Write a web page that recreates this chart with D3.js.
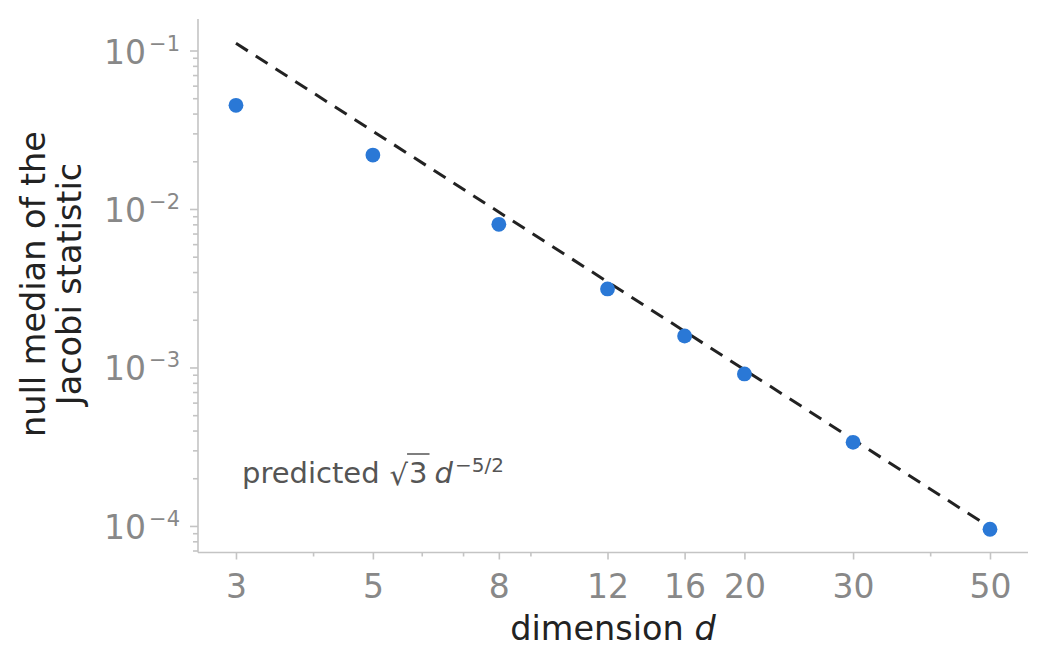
<!DOCTYPE html>
<html>
<head>
<meta charset="utf-8">
<script src="https://cdn.jsdelivr.net/npm/d3@7"></script>
<style>
  body { margin: 0; background: #fff; }
  svg text { font-family: "DejaVu Sans", sans-serif; }
</style>
</head>
<body>
<svg id="chart" width="1047" height="668"></svg>
<script>
// measured null medians
var dims = [3, 5, 8, 12, 16, 20, 30, 50];
var medians = [0.0451, 0.0219, 0.0080, 0.00313, 0.00158, 0.00091, 0.000337, 0.0000953];

// predicted sqrt(3) d^-5/2, read at the ends of the dashed line
var predDims = [3, 50];
var predVals = [0.111, 0.000098];

var xMajor = [3, 5, 8, 12, 16, 20, 30, 50];
var xMinor = [4, 6, 7, 9, 40];
var yMajor = [1e-4, 1e-3, 1e-2, 1e-1];
var yExp = ["\u22124", "\u22123", "\u22122", "\u22121"];

var svg = d3.select("#chart");
var plotL = 198, plotR = 1028, plotT = 19, plotB = 552.5;

var x = d3.scaleLog().domain([2.6036, 57.62]).range([plotL, plotR]);
var y = d3.scaleLog().domain([6.80e-5, 0.15804]).range([plotB, plotT]);

var yMinor = [];
[1e-5, 1e-4, 1e-3, 1e-2, 1e-1].forEach(function (dec) {
    for (var k = 2; k <= 9; k++) {
        var v = k * dec;
        if (v >= y.domain()[0] && v <= y.domain()[1]) yMinor.push(v);
    }
});

var gray = "#c4c4c4";

// x axis
var gx = svg.append("g").attr("transform", "translate(0," + plotB + ")");
gx.call(d3.axisBottom(x).tickValues(xMinor).tickSize(4).tickFormat(""));
gx.append("g").call(d3.axisBottom(x).tickValues(xMajor).tickSize(7).tickFormat(d3.format("d")));
gx.selectAll("g g .domain").remove();
gx.select(".domain").attr("stroke", gray).attr("stroke-width", 1.6)
    .attr("d", "M" + plotL + ",0H" + plotR);
gx.selectAll(".tick line").attr("stroke", gray).attr("stroke-width", 1.6);
gx.selectAll(".tick text")
    .attr("y", 45).attr("dy", null)
    .attr("font-size", 33).attr("fill", "#888")
    .attr("font-family", "DejaVu Sans");

// y axis
var gy = svg.append("g").attr("transform", "translate(" + plotL + ",0)");
gy.call(d3.axisLeft(y).tickValues(yMinor).tickSize(5).tickFormat(""));
gy.append("g").call(d3.axisLeft(y).tickValues(yMajor).tickSize(8).tickFormat(""));
gy.selectAll("g g .domain").remove();
gy.select(".domain").attr("stroke", gray).attr("stroke-width", 1.6)
    .attr("d", "M0," + plotT + "V" + plotB);
gy.selectAll(".tick line").attr("stroke", gray).attr("stroke-width", 1.6);

yMajor.forEach(function (v, i) {
    var t = svg.append("text")
        .attr("x", 180).attr("y", y(v) + 13)
        .attr("text-anchor", "end").attr("fill", "#888");
    t.append("tspan").attr("font-size", 33).text("10");
    t.append("tspan").attr("font-size", 21).attr("dx", 3).attr("dy", -13).text(yExp[i]);
});

// predicted line
svg.append("path")
    .datum(predDims.map(function (d, i) { return [d, predVals[i]]; }))
    .attr("fill", "none").attr("stroke", "#222").attr("stroke-width", 3)
    .attr("stroke-dasharray", "14,9.5")
    .attr("d", d3.line().x(function (p) { return x(p[0]); }).y(function (p) { return y(p[1]); }));

// points
svg.append("g").selectAll("circle")
    .data(dims)
    .enter().append("circle")
    .attr("cx", function (d) { return x(d); })
    .attr("cy", function (d, i) { return y(medians[i]); })
    .attr("r", 7.4)
    .attr("fill", "#2a78d6");

// annotation: predicted sqrt(3) d^{-5/2}
var ax = 242, ab = 483, acol = "#555";
var t1 = svg.append("text").attr("x", ax).attr("y", ab).attr("font-size", 29).attr("fill", acol).text("predicted");
var px = ax + t1.node().getComputedTextLength() + 10;
var rad = svg.append("text").attr("x", px).attr("y", ab + 2).attr("font-size", 29).attr("fill", acol).text("\u221A");
var rx = px + rad.node().getComputedTextLength() - 1;
var three = svg.append("text").attr("x", rx + 2).attr("y", ab).attr("font-size", 29).attr("fill", acol).text("3");
var tx = rx + 2 + three.node().getComputedTextLength() + 2;
svg.append("line").attr("x1", rx).attr("x2", tx).attr("y1", 454).attr("y2", 454)
    .attr("stroke", acol).attr("stroke-width", 1.5);
var dd = svg.append("text").attr("x", tx + 5).attr("y", ab).attr("font-size", 29)
    .attr("font-style", "italic").attr("fill", acol).text("d");
var dx2 = tx + 5 + dd.node().getComputedTextLength() + 2;
svg.append("text").attr("x", dx2).attr("y", ab - 11).attr("font-size", 20).attr("fill", acol).text("\u22125/2");

// axis labels
var xl = svg.append("text").attr("x", (plotL + plotR) / 2).attr("y", 640)
    .attr("text-anchor", "middle").attr("font-size", 33.5).attr("fill", "#222");
xl.append("tspan").text("dimension ");
xl.append("tspan").attr("font-style", "italic").text("d");

var yl = svg.append("text").attr("transform", "translate(45,284) rotate(-90)")
    .attr("text-anchor", "middle").attr("font-size", 33.5).attr("fill", "#222");
yl.append("tspan").attr("x", 0).attr("y", 0).text("null median of the");
yl.append("tspan").attr("x", 0).attr("y", 36).text("Jacobi statistic");
</script>
</body>
</html>
